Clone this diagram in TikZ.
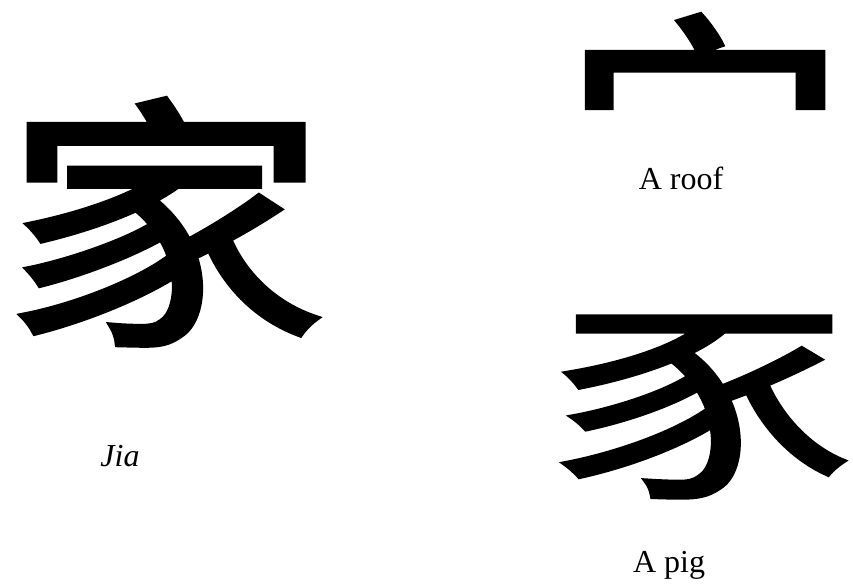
\documentclass[tikz,border=0pt]{standalone}
\usepackage{fontspec}
\setmainfont{Liberation Serif}
\newfontfamily\cjk{Noto Sans CJK SC}[FakeBold=2.2]
\usepackage{tikz}
\usetikzlibrary{positioning}

\begin{document}
\begin{tikzpicture}[
    x=0.5pt, y=-0.5pt,
    glyph/.style={inner sep=0pt, text=black},
    caption/.style={inner sep=0pt, font=\fontsize{16pt}{18pt}\selectfont}
]
\useasboundingbox (0,0) rectangle (853,587);
% the whole character and its two parts
\node[glyph] (jia) at (165,222)
    {\scalebox{1}[0.82]{\fontsize{162pt}{162pt}\selectfont\cjk 家}};
\node[glyph] (roof) at (705,116)
    {\scalebox{1}[0.85]{\fontsize{142pt}{142pt}\selectfont\cjk 宀}};
\node[glyph] (pig) at (704,407)
    {\scalebox{1}[0.7]{\fontsize{149pt}{149pt}\selectfont\cjk 豕}};
% captions
\node[caption] (roofcap) at (681,178) {A roof};
\node[caption] (jiacap) at (120,456) {\itshape Jia};
\node[caption] (pigcap) at (669,565) {A pig};
\end{tikzpicture}
\end{document}
